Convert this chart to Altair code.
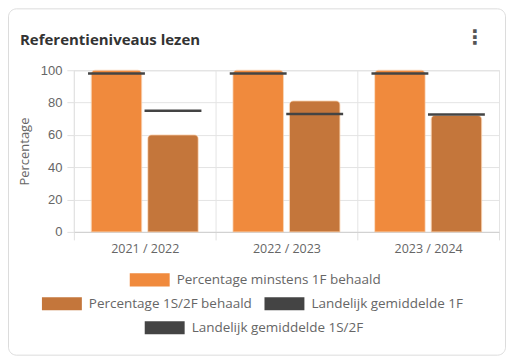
import altair as alt
import pandas as pd

years = ["2021 / 2022", "2022 / 2023", "2023 / 2024"]
pct_min_1f = [100, 100, 100]
pct_1s2f = [60, 81, 72]
nat_avg_1f = [98, 98, 98]
nat_avg_1s2f = [75, 73, 72.6]

series_names = [
    "Percentage minstens 1F behaald",
    "Percentage 1S/2F behaald",
    "Landelijk gemiddelde 1F",
    "Landelijk gemiddelde 1S/2F",
]
series_groups = ["1F", "1S2F", "1F", "1S2F"]
series_colors = ["#F08A3D", "#C4763B", "#444444", "#444444"]
series_values = [pct_min_1f, pct_1s2f, nat_avg_1f, nat_avg_1s2f]

chart_title = "Referentieniveaus lezen"

rows = []
for name, grp, vals in zip(series_names, series_groups, series_values):
    for y, v in zip(years, vals):
        rows.append({"year": y, "serie": name, "grp": grp, "value": v})
df = pd.DataFrame(rows)

FONT = "Open Sans, Noto Sans, sans-serif"
SWATCH = "M-1,-0.33H1V0.33H-1Z"

x_enc = alt.X(
    "year:N",
    sort=years,
    scale=alt.Scale(paddingInner=0, paddingOuter=0),
    axis=alt.Axis(
        title=None,
        tickBand="extent",
        grid=True,
        gridColor="#e4e4e4",
        tickColor="#e0e0e0",
        tickSize=8,
        domainColor="#d0d0d0",
        labelColor="#666666",
        labelFontSize=12.5,
        labelFont=FONT,
        labelPadding=3,
        labelAngle=0,
    ),
)
y_enc = alt.Y(
    "value:Q",
    scale=alt.Scale(domain=[0, 100], nice=False),
    axis=alt.Axis(
        title="Percentage",
        values=[0, 20, 40, 60, 80, 100],
        gridColor="#e4e4e4",
        tickColor="#e0e0e0",
        tickSize=7,
        domain=False,
        labelColor="#666666",
        labelFontSize=13,
        labelFont="Liberation Sans, Arial, sans-serif",
        labelPadding=5,
        titleColor="#666666",
        titleFont=FONT,
        titleFontSize=13,
        titleFontWeight="normal",
        titlePadding=9,
    ),
)
xoff_enc = alt.XOffset(
    "grp:N",
    scale=alt.Scale(domain=["1F", "1S2F"], paddingInner=0.106, paddingOuter=0.307),
)

legend_pos = [(56, 190), (-32, 214), (191, 214), (71, 238)]


def color_enc(i):
    return alt.Color(
        "serie:N",
        scale=alt.Scale(domain=[series_names[i]], range=[series_colors[i]]),
        legend=alt.Legend(
            title=None,
            orient="none",
            legendX=legend_pos[i][0],
            legendY=legend_pos[i][1],
            symbolType=SWATCH,
            symbolSize=1600,
            symbolStrokeWidth=0,
            symbolOpacity=1,
            labelFontSize=13.5,
            labelFont=FONT,
            labelColor="#666666",
            labelOffset=7,
            padding=0,
            labelLimit=400,
        ),
    )


card = (
    alt.Chart(pd.DataFrame({"k": [0]}))
    .mark_rect(fillOpacity=0, stroke="#dcdcdc", strokeWidth=1, cornerRadius=8)
    .encode(
        x=alt.value(-65.5),
        x2=alt.value(432.5),
        y=alt.value(-61.5),
        y2=alt.value(285.5),
    )
)

layers = [card]
for i in range(4):
    base = alt.Chart(df).transform_filter(alt.datum.serie == series_names[i])
    if i < 2:
        m = base.mark_bar(
            cornerRadiusTopLeft=4,
            cornerRadiusTopRight=4,
            stroke="#f6c8a0",
            strokeWidth=1,
            strokeOpacity=0.6,
            opacity=1,
        )
    else:
        m = base.mark_tick(size=57, thickness=2.5, opacity=1)
    layers.append(m.encode(x=x_enc, y=y_enc, xOffset=xoff_enc, color=color_enc(i)))

texts = pd.DataFrame({"t": [chart_title]})
title_mark = (
    alt.Chart(texts)
    .mark_text(
        fontSize=15,
        fontWeight="bold",
        color="#333333",
        font=FONT,
        align="left",
        baseline="alphabetic",
    )
    .encode(text="t:N", x=alt.value(-54), y=alt.value(-25))
)

kebab = (
    alt.Chart(pd.DataFrame({"t": ["⋮"]}))
    .mark_text(fontSize=20, fontWeight="bold", color="#555555", font="DejaVu Sans")
    .encode(text="t:N", x=alt.value(402), y=alt.value(-32))
)

chart = (
    alt.layer(*layers, title_mark, kebab)
    .resolve_scale(color="independent")
    .properties(
        width=426,
        height=162,
        autosize=alt.AutoSizeParams(type="none"),
        padding={"left": 66, "top": 62, "right": 10, "bottom": 127},
    )
    .configure_view(stroke=None)
    .configure(background="white")
)

chart.save("out.html", embed_options={"renderer": "svg", "actions": False})
